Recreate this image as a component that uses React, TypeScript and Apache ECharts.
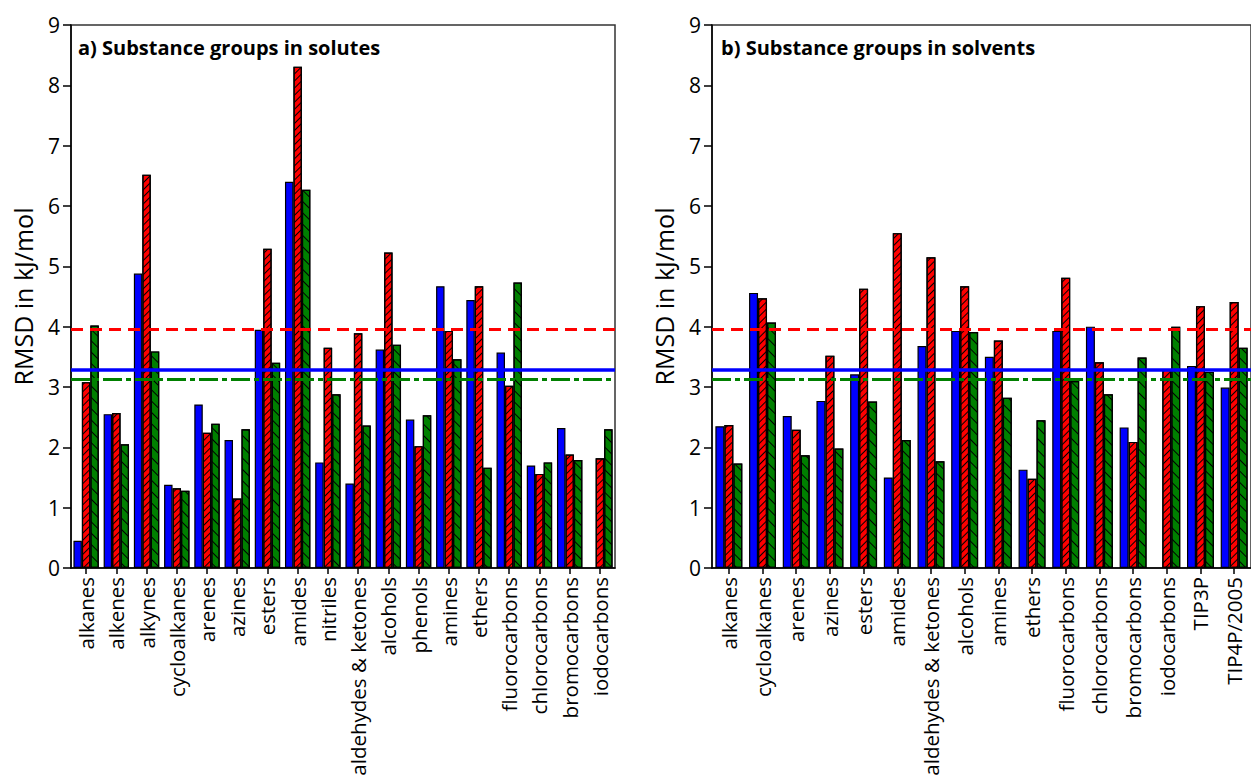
import React, { useEffect, useRef } from "react";
import * as echarts from "echarts";

const catsA = ["alkanes", "alkenes", "alkynes", "cycloalkanes", "arenes", "azines", "esters", "amides", "nitriles", "aldehydes & ketones", "alcohols", "phenols", "amines", "ethers", "fluorocarbons", "chlorocarbons", "bromocarbons", "iodocarbons"];
const blueA = [0.45, 2.55, 4.88, 1.38, 2.71, 2.12, 3.95, 6.40, 1.75, 1.40, 3.62, 2.46, 4.67, 4.44, 3.57, 1.70, 2.32, null];
const redA = [3.08, 2.57, 6.52, 1.32, 2.24, 1.15, 5.29, 8.31, 3.65, 3.89, 5.23, 2.02, 3.93, 4.67, 3.02, 1.56, 1.88, 1.82];
const greenA = [4.02, 2.05, 3.59, 1.28, 2.39, 2.30, 3.40, 6.27, 2.88, 2.36, 3.70, 2.53, 3.46, 1.66, 4.73, 1.75, 1.79, 2.30];

const catsB = ["alkanes", "cycloalkanes", "arenes", "azines", "esters", "amides", "aldehydes & ketones", "alcohols", "amines", "ethers", "fluorocarbons", "chlorocarbons", "bromocarbons", "iodocarbons", "TIP3P", "TIP4P/2005"];
const blueB = [2.35, 4.56, 2.52, 2.77, 3.21, 1.50, 3.68, 3.93, 3.50, 1.63, 3.93, 4.00, 2.33, null, 3.35, 2.99];
const redB = [2.37, 4.47, 2.29, 3.52, 4.63, 5.55, 5.15, 4.67, 3.77, 1.48, 4.81, 3.41, 2.09, 3.30, 4.34, 4.41];
const greenB = [1.73, 4.07, 1.87, 1.98, 2.76, 2.12, 1.77, 3.91, 2.82, 2.45, 3.10, 2.88, 3.49, 4.00, 3.25, 3.65];

const refRed = 3.95;
const refBlue = 3.28;
const refGreen = 3.13;

const yTicks = [0, 1, 2, 3, 4, 5, 6, 7, 8, 9];

const FONT = "Open Sans";

export default function App() {
  const ref = useRef<HTMLDivElement>(null);
  useEffect(() => {
    const chart = echarts.init(ref.current!, null, { renderer: "svg" });
    const redDecal = {
      symbol: "rect",
      symbolSize: 1,
      color: "#000",
      dashArrayX: [1, 0],
      dashArrayY: [1, 3.5],
      rotation: -Math.PI / 4,
    };
    const greenDecal = {
      symbol: "rect",
      symbolSize: 1,
      color: "#000",
      dashArrayX: [1, 0],
      dashArrayY: [1, 6.5],
      rotation: Math.PI / 4,
    };
    const mk = {
      silent: true,
      symbol: "none",
      label: { show: false },
      z: 10,
      data: [
        { yAxis: refRed, lineStyle: { color: "#ff0000", width: 3, type: [12, 7] } },
        { yAxis: refBlue, lineStyle: { color: "#0000ff", width: 3.5, type: "solid" } },
        { yAxis: refGreen, lineStyle: { color: "#008000", width: 3, type: [19, 4, 5, 4] } },
      ],
    };
    const xAxisBase = (cats: string[], idx: number) => ({
      type: "category",
      gridIndex: idx,
      data: cats,
      axisLine: { lineStyle: { color: "#000", width: 1.5 } },
      axisTick: { show: true, alignWithLabel: true, length: 6, lineStyle: { color: "#000", width: 1.5 } },
      axisLabel: { rotate: 90, color: "#000", fontSize: 20.5, fontFamily: FONT, margin: 9, interval: 0 },
    });
    const yAxisBase = (idx: number) => ({
      type: "value",
      gridIndex: idx,
      min: 0,
      max: 9,
      interval: 1,
      name: "RMSD in kJ/mol",
      nameLocation: "middle",
      nameGap: 36,
      nameTextStyle: { color: "#000", fontSize: 25, fontFamily: FONT },
      axisLine: { show: true, lineStyle: { color: "#000", width: 1.5 } },
      axisTick: { show: true, inside: false, length: 8, lineStyle: { color: "#000", width: 1.5 } },
      axisLabel: { color: "#000", fontSize: 21, fontFamily: FONT, margin: 11,
        formatter: (v: number) => (yTicks.includes(v) ? String(v) : "") },
      splitLine: { show: false },
    });
    const bars = (b: any[], r: any[], g: any[], idx: number, gap: string) => [
      {
        type: "bar", xAxisIndex: idx, yAxisIndex: idx, data: b, barGap: "0%", barCategoryGap: gap,
        itemStyle: { color: "#0000ff", borderColor: "#000", borderWidth: 1.2 },
      },
      {
        type: "bar", xAxisIndex: idx, yAxisIndex: idx, data: r, barGap: "0%", barCategoryGap: gap,
        itemStyle: { color: "#ff0000", borderColor: "#000", borderWidth: 1.2, decal: redDecal },
      },
      {
        type: "bar", xAxisIndex: idx, yAxisIndex: idx, data: g, barGap: "0%", barCategoryGap: gap,
        itemStyle: { color: "#008000", borderColor: "#000", borderWidth: 1.2, decal: greenDecal },
        markLine: mk,
      },
    ];
    chart.setOption({
      animation: false,
      backgroundColor: "#fff",
      title: [
        { text: "a) Substance groups in solutes", left: 73, top: 32,
          textStyle: { fontSize: 20, fontWeight: "bold", color: "#000", fontFamily: FONT } },
        { text: "b) Substance groups in solvents", left: 716, top: 32,
          textStyle: { fontSize: 20, fontWeight: "bold", color: "#000", fontFamily: FONT } },
      ],
      grid: [
        { left: 71, right: 636, top: 25, bottom: 213, show: true, borderColor: "#333", borderWidth: 1.5, backgroundColor: "transparent" },
        { left: 712, right: -6, top: 25, bottom: 213, show: true, borderColor: "#333", borderWidth: 1.5, backgroundColor: "transparent" },
      ],
      xAxis: [xAxisBase(catsA, 0), xAxisBase(catsB, 1)],
      yAxis: [yAxisBase(0), yAxisBase(1)],
      series: [...bars(blueA, redA, greenA, 0, "16%"), ...bars(blueB, redB, greenB, 1, "20%")],
    });
    return () => chart.dispose();
  }, []);
  return (
    <div
      ref={ref}
      style={{ position: "fixed", left: 0, top: 0, width: 1251, height: 781, background: "#fff" }}
    />
  );
}
